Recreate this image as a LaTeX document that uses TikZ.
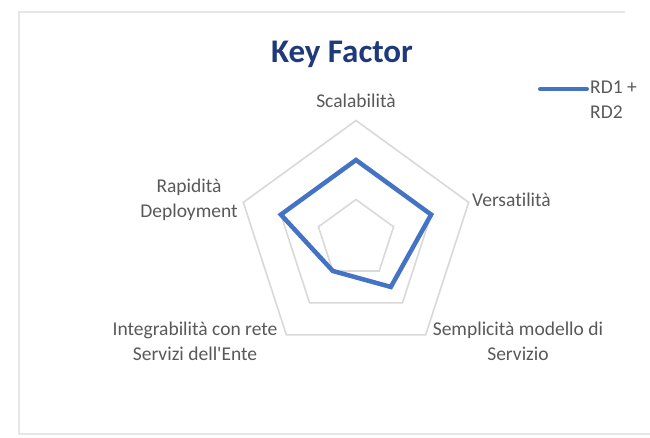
\documentclass[tikz,border=0pt]{standalone}
\usepackage{fontspec}
\setmainfont{Carlito}[Ligatures={NoCommon}]
\usetikzlibrary{calc}
\definecolor{lbl}{HTML}{595959}
\definecolor{grid}{HTML}{D9D9D9}
\definecolor{ser}{HTML}{4472C4}
\definecolor{ttl}{HTML}{1F3A7A}
\definecolor{frm}{HTML}{E6E6E6}
\begin{document}
\begin{tikzpicture}[x=1pt,y=-1pt,
  axlabel/.style={text=lbl,font=\fontsize{19.5}{25}\selectfont,align=center,inner sep=0pt},
  gridline/.style={draw=grid,line width=1.6pt,line join=miter},
  series/.style={draw=ser,line width=4.5pt,line join=miter}]
\useasboundingbox (0,0) rectangle (650,437);
\fill[white] (0,0) rectangle (650,437);
% frame
\draw[frm,line width=2pt] (625,12) -- (19,12) -- (19,434) -- (650,434);
% title
\node[text=ttl,font=\fontsize{33}{36}\bfseries\selectfont,inner sep=0pt] (title) at (342,54) {Key Factor};
% grid
\coordinate (c) at (356,239);
\foreach \r in {39.5,79,118.5}
  \draw[gridline] ($(c)+(-90:\r)$) -- ($(c)+(-18:\r)$) -- ($(c)+(54:\r)$) -- ($(c)+(126:\r)$) -- ($(c)+(198:\r)$) -- cycle;
% series: 2,2,1.5,1,2 of 3
\draw[series] ($(c)+(-90:79)$) coordinate (p1) -- ($(c)+(-18:79)$) coordinate (p2) -- ($(c)+(54:59.25)$) coordinate (p3) -- ($(c)+(126:39.5)$) coordinate (p4) -- ($(c)+(198:79)$) coordinate (p5) -- cycle;
% axis labels
\node[axlabel] (l1) at (356,101) {Scalabilità};
\node[axlabel,anchor=west] (l2) at (472,200) {Versatilità};
\node[axlabel] (l3) at (189,200) {Rapidità\\Deployment};
\node[axlabel] (l4) at (195,341) {Integrabilità con rete\\Servizi dell\textquotesingle Ente};
\node[axlabel] (l5) at (518,341) {Semplicità modello di\\Servizio};
% legend
\coordinate (lg1) at (540,89);
\coordinate (lg2) at (587,89);
\draw[series,line cap=round,line width=4pt] (lg1) -- (lg2);
\node[axlabel,anchor=north west,align=left] (lgt) at (590,81) {RD1 +\\RD2};
\end{tikzpicture}
\end{document}
